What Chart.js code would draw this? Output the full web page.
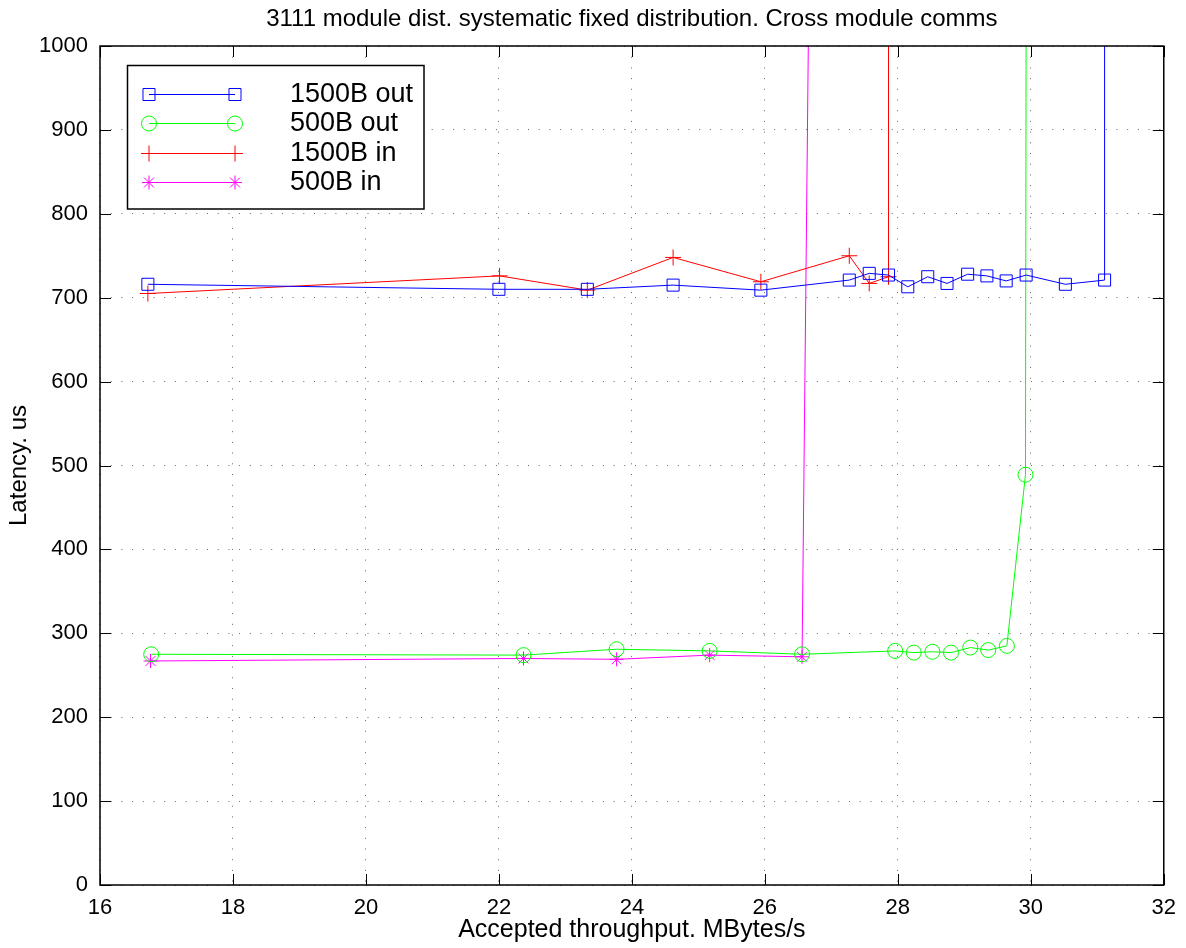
<!DOCTYPE html>
<html>
<head>
<meta charset="utf-8">
<script src="https://cdn.jsdelivr.net/npm/chart.js@4/dist/chart.umd.min.js"></script>
<style>
  html, body { margin: 0; padding: 0; background: #fff; }
  #wrap { width: 1186px; height: 948px; position: relative; }
</style>
</head>
<body>
<div id="wrap"><canvas id="latency-chart"></canvas></div>
<script>
// values (x: MBytes/s, y: us)
const out1500X = [16.72, 22.0, 23.33, 24.62, 25.94, 27.27, 27.57, 27.86, 28.15, 28.45, 28.74, 29.05, 29.34, 29.63, 29.93, 30.52, 31.11, 31.11];
const out1500Y = [716, 710, 710, 715, 709, 721, 729, 727, 713, 725, 717, 728, 726, 720, 727, 716, 721, 1050];

const out500X = [16.77, 22.37, 23.77, 25.17, 26.56, 27.96, 28.24, 28.52, 28.80, 29.09, 29.36, 29.64, 29.92, 29.93];
const out500Y = [275, 274, 281, 279, 275, 279, 277, 278, 277, 283, 280, 285, 489, 1050];

const in1500X = [16.72, 22.01, 23.33, 24.62, 25.94, 27.27, 27.57, 27.86, 27.86];
const in1500Y = [705, 726, 709, 748, 719, 750, 717, 725, 1050];

const in500X = [16.76, 22.37, 23.77, 25.17, 26.56, 26.66];
const in500Y = [267, 270, 269, 274, 272, 1050];

const seriesLabels = ['1500B out', '500B out', '1500B in', '500B in'];
const seriesColors = ['#0000ff', '#00ff00', '#ff0000', '#ff00ff'];
const seriesStyles = ['rect', 'circle', 'cross', 'star'];
const seriesRadius = [8.5, 7.5, 8, 7];

const chartTitle = '3111 module dist. systematic fixed distribution. Cross module comms';

const FONT = "'Liberation Sans', Arial, Helvetica, sans-serif";

function pts(xs, ys) {
  return xs.map((x, i) => ({ x: x, y: ys[i] }));
}

const seriesData = [pts(out1500X, out1500Y), pts(out500X, out500Y), pts(in1500X, in1500Y), pts(in500X, in500Y)];

const datasets = seriesData.map((d, i) => ({
  label: seriesLabels[i],
  data: d,
  borderColor: seriesColors[i],
  backgroundColor: 'rgba(0,0,0,0)',
  borderWidth: 1,
  pointStyle: seriesStyles[i],
  pointRadius: seriesRadius[i],
  pointHoverRadius: seriesRadius[i],
  pointBorderWidth: 1,
  pointBorderColor: seriesColors[i],
  pointBackgroundColor: 'rgba(0,0,0,0)',
  tension: 0,
  showLine: true,
  clip: 0,
}));

// title centred over the plot area, box around the plot + inward ticks
const frame = {
  id: 'frame',
  afterDatasetsDraw(chart) {
    const { ctx, chartArea: a, scales: { x, y } } = chart;
    const tl = 11;
    ctx.save();
    ctx.strokeStyle = '#000';
    ctx.lineWidth = 1;
    ctx.beginPath();
    x.ticks.forEach(t => {
      const px = Math.round(x.getPixelForValue(t.value)) + 0.5;
      ctx.moveTo(px, a.bottom); ctx.lineTo(px, a.bottom - tl);
      ctx.moveTo(px, a.top); ctx.lineTo(px, a.top + tl);
    });
    y.ticks.forEach(t => {
      const py = Math.round(y.getPixelForValue(t.value)) + 0.5;
      ctx.moveTo(a.left, py); ctx.lineTo(a.left + tl, py);
      ctx.moveTo(a.right, py); ctx.lineTo(a.right - tl, py);
    });
    ctx.stroke();
    ctx.lineWidth = 1.5;
    ctx.strokeRect(a.left, a.top, a.right - a.left, a.bottom - a.top);

    ctx.fillStyle = '#000';
    ctx.font = '24px ' + FONT;
    ctx.textAlign = 'center';
    ctx.textBaseline = 'middle';
    ctx.fillText(chartTitle, (a.left + a.right) / 2, 19);
    ctx.restore();
  }
};

// matlab style legend box in the upper left corner
const boxLegend = {
  id: 'boxLegend',
  afterDraw(chart) {
    const ctx = chart.ctx;
    const bx = 127.5, by = 65.5, bw = 296.5, bh = 143.5;
    ctx.save();
    ctx.fillStyle = '#fff';
    ctx.fillRect(bx, by, bw, bh);
    ctx.strokeStyle = '#000';
    ctx.lineWidth = 1.5;
    ctx.strokeRect(bx, by, bw, bh);
    const rows = [94, 123, 153, 182];
    chart.data.datasets.forEach((ds, i) => {
      const yy = rows[i];
      ctx.strokeStyle = ds.borderColor;
      ctx.lineWidth = 1;
      ctx.beginPath();
      ctx.moveTo(149, yy + 0.5);
      ctx.lineTo(235, yy + 0.5);
      ctx.stroke();
      ctx.fillStyle = 'rgba(0,0,0,0)';
      const opts = { pointStyle: ds.pointStyle, radius: ds.pointRadius, borderWidth: 1, rotation: 0 };
      Chart.helpers.drawPoint(ctx, opts, 149, yy + 0.5);
      Chart.helpers.drawPoint(ctx, opts, 235, yy + 0.5);
      ctx.fillStyle = '#000';
      ctx.font = '27px ' + FONT;
      ctx.textAlign = 'left';
      ctx.textBaseline = 'middle';
      ctx.fillText(ds.label, 290, yy + 1);
    });
    ctx.restore();
  }
};

new Chart(document.getElementById('latency-chart'), {
  type: 'line',
  data: { datasets: datasets },
  options: {
    responsive: true,
    maintainAspectRatio: false,
    animation: false,
    layout: { padding: { left: 0, right: 21, top: 46, bottom: 0 } },
    plugins: {
      legend: { display: false },
      tooltip: { enabled: false },
      title: { display: false },
    },
    scales: {
      x: {
        type: 'linear',
        min: 16,
        max: 32,
        afterFit(s) { s.height = 63; },
        ticks: { stepSize: 2, color: '#000', padding: 10, font: { family: FONT, size: 22 }, callback: v => String(v) },
        grid: { color: 'rgba(0,0,0,0.6)', drawTicks: false, lineWidth: 1 },
        border: { display: false, dash: [1, 9.7] },
        title: {
          display: true,
          text: 'Accepted throughput. MBytes/s',
          color: '#000',
          font: { family: FONT, size: 25, lineHeight: 1.2 },
          padding: { top: 0, bottom: 3 },
        },
      },
      y: {
        type: 'linear',
        min: 0,
        max: 1000,
        afterFit(s) { s.width = 100; },
        ticks: { stepSize: 100, color: '#000', padding: 12, font: { family: FONT, size: 22 }, callback: v => String(v) },
        grid: { color: 'rgba(0,0,0,0.6)', drawTicks: false, lineWidth: 1 },
        border: { display: false, dash: [1, 9.7] },
        title: {
          display: true,
          text: 'Latency. us',
          color: '#000',
          font: { family: FONT, size: 24, lineHeight: 1.2 },
          padding: { top: 5, bottom: 0 },
        },
      },
    },
  },
  plugins: [frame, boxLegend],
});
</script>
</body>
</html>
